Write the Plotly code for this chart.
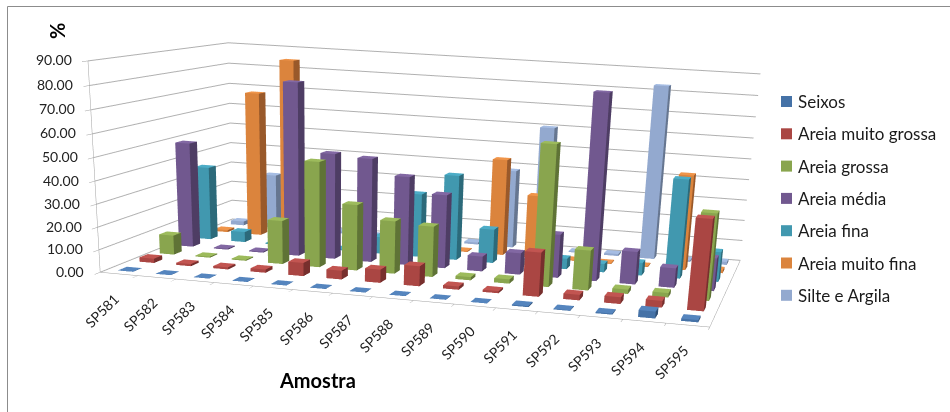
import plotly.graph_objects as go

samples = ["SP581","SP582","SP583","SP584","SP585","SP586","SP587","SP588","SP589","SP590","SP591","SP592","SP593","SP594","SP595"]
seixos = [0.1,0.1,0.1,0.1,0.1,0.1,0.1,0.1,0.1,0.1,0.5,0.3,0.5,3,1]
muito_grossa = [2,1,1,1.5,6,4,6,9,1.5,1,19.5,2.5,3,3,39.5]
grossa = [9,0.5,0.5,20,48,30,24,23,1.5,2,63,18,2,2,38.5]
media = [49,0.5,0.5,80,49,48,41,34,7,10,20,84,15,9,15]
fina = [35,5,0.5,0.5,0.5,8,30,40,16,2,5,4,6,46,14]
muito_fina = [1,69.5,86,0.5,0.5,5,0.5,0.5,46,30,0.5,0.5,0.5,45,1.5]
silte = [2,27,7,1,0.5,3,0.5,1,38,60,0.5,1,83,1,1.5]
z_ticks = [0,10,20,30,40,50,60,70,80,90]

names = ["Seixos","Areia muito grossa","Areia grossa","Areia média","Areia fina","Areia muito fina","Silte e Argila"]
series = [seixos,muito_grossa,grossa,media,fina,muito_fina,silte]
front = ["#4572A7","#AA4643","#89A54E","#71588F","#4198AF","#DB843D","#93A9CF"]
side = ["#2F4F75","#772F2D","#5F7336","#4E3D64","#2C6A7A","#99592A","#667690"]
top = ["#5585BE","#C25551","#9DBB5C","#8268A3","#4DADC7","#F0954A","#A6BDE3"]

# A tall scene narrows the fixed gl3d field of view; only the top of the page is on screen
FIG_W, FIG_H = 950, 1300


def py(pixel_y):
    return 1 - pixel_y / FIG_H


def px(pixel_x):
    return pixel_x / FIG_W


fig = go.Figure()
n_cat = len(samples)
bar_lo, bar_hi = 0.3, 0.7

# One mesh per series: each bar is a box with flat-coloured front, side and top faces
for row, (name, values) in enumerate(zip(names, series)):
    X, Y, Z, I, J, K, colors = [], [], [], [], [], [], []
    for col, v in enumerate(values):
        x0, x1 = col + bar_lo, col + bar_hi
        y0, y1 = row + bar_lo, row + bar_hi
        base = len(X)
        X += [x0, x1, x1, x0, x0, x1, x1, x0]
        Y += [y0, y0, y1, y1, y0, y0, y1, y1]
        Z += [0, 0, 0, 0, v, v, v, v]
        for tri, c in [((0, 1, 5), front[row]), ((0, 5, 4), front[row]), ((1, 2, 6), side[row]),
                       ((1, 6, 5), side[row]), ((4, 5, 6), top[row]), ((4, 6, 7), top[row])]:
            I.append(base + tri[0])
            J.append(base + tri[1])
            K.append(base + tri[2])
            colors.append(c)
    fig.add_trace(go.Mesh3d(x=X, y=Y, z=Z, i=I, j=J, k=K, facecolor=colors, flatshading=True, name=name,
                            lighting=dict(ambient=1, diffuse=0, specular=0, fresnel=0), hoverinfo="skip"))

axis_base = dict(showbackground=False, showspikes=False, title="", zeroline=False, showticklabels=False,
                 showline=True, linecolor="#a0a0a0", linewidth=1)

scene_notes = [dict(x=i + 0.5, y=0, z=0, text=s, textangle=-45, showarrow=False, xanchor="right", yanchor="top",
                    xshift=6, yshift=-14, font=dict(size=14)) for i, s in enumerate(samples)]
scene_notes += [dict(x=0, y=0, z=t, text=f"{t:.2f}", showarrow=False, xanchor="right", xshift=-14, yshift=1,
                     font=dict(size=14)) for t in z_ticks]

# Chart frame, axis titles and a swatch plus label per series in the right margin
shapes = [dict(type="line", xref="paper", yref="paper", x0=px(7.5), x1=px(7.5), y0=0, y1=py(6.5),
               line=dict(color="#8c8c8c", width=1)),
          dict(type="line", xref="paper", yref="paper", x0=px(7.5), x1=1, y0=py(6.5), y1=py(6.5),
               line=dict(color="#8c8c8c", width=1))]
notes = [dict(text="<b>Amostra</b>", x=px(317.5), y=py(380), xref="paper", yref="paper", xanchor="center",
              yanchor="middle", showarrow=False, font=dict(size=20, color="black")),
         dict(text="<b>%</b>", x=px(57), y=py(31), xref="paper", yref="paper", xanchor="center",
              yanchor="middle", showarrow=False, textangle=-90, font=dict(size=20, color="black"))]
legend_top, legend_step = 101.5, 32.3
for k, name in enumerate(names):
    yc = legend_top + k * legend_step
    shapes.append(dict(type="rect", xref="paper", yref="paper", x0=px(781), x1=px(792),
                       y0=py(yc - 5.5), y1=py(yc + 5.5), fillcolor=front[k], line=dict(width=0)))
    notes.append(dict(text=name, x=px(796), y=py(yc), xref="paper", yref="paper", xanchor="left",
                      yanchor="middle", showarrow=False, font=dict(size=17, color="#1a1a1a")))

fig.update_layout(
    width=FIG_W, height=FIG_H, margin=dict(l=0, r=0, t=0, b=0), paper_bgcolor="white", showlegend=False,
    font=dict(family="Lato", size=14, color="#222"),
    shapes=shapes, annotations=notes,
    scene=dict(
        dragmode="orbit",
        domain=dict(x=[0, 1], y=[0, 1]), aspectmode="manual", aspectratio=dict(x=1, y=0.592, z=0.326),
        camera=dict(eye=dict(x=0.677, y=-2.695, z=0.357), center=dict(x=0.297, y=-0.941, z=-0.453),
                    up=dict(x=-0.041, y=0, z=1)),
        annotations=scene_notes,
        xaxis=dict(axis_base, range=[0, n_cat], tickvals=list(range(n_cat + 1)), showgrid=False,
                   ticks="outside", ticklen=5, tickcolor="#a0a0a0"),
        yaxis=dict(axis_base, range=[0, len(names)], showgrid=False, ticks=""),
        zaxis=dict(axis_base, range=[0, 90], tickvals=z_ticks, showgrid=True, gridcolor="#b0b0b0",
                   ticks="outside", ticklen=5, tickcolor="#a0a0a0"),
    ),
)
fig.write_html("out.html")
